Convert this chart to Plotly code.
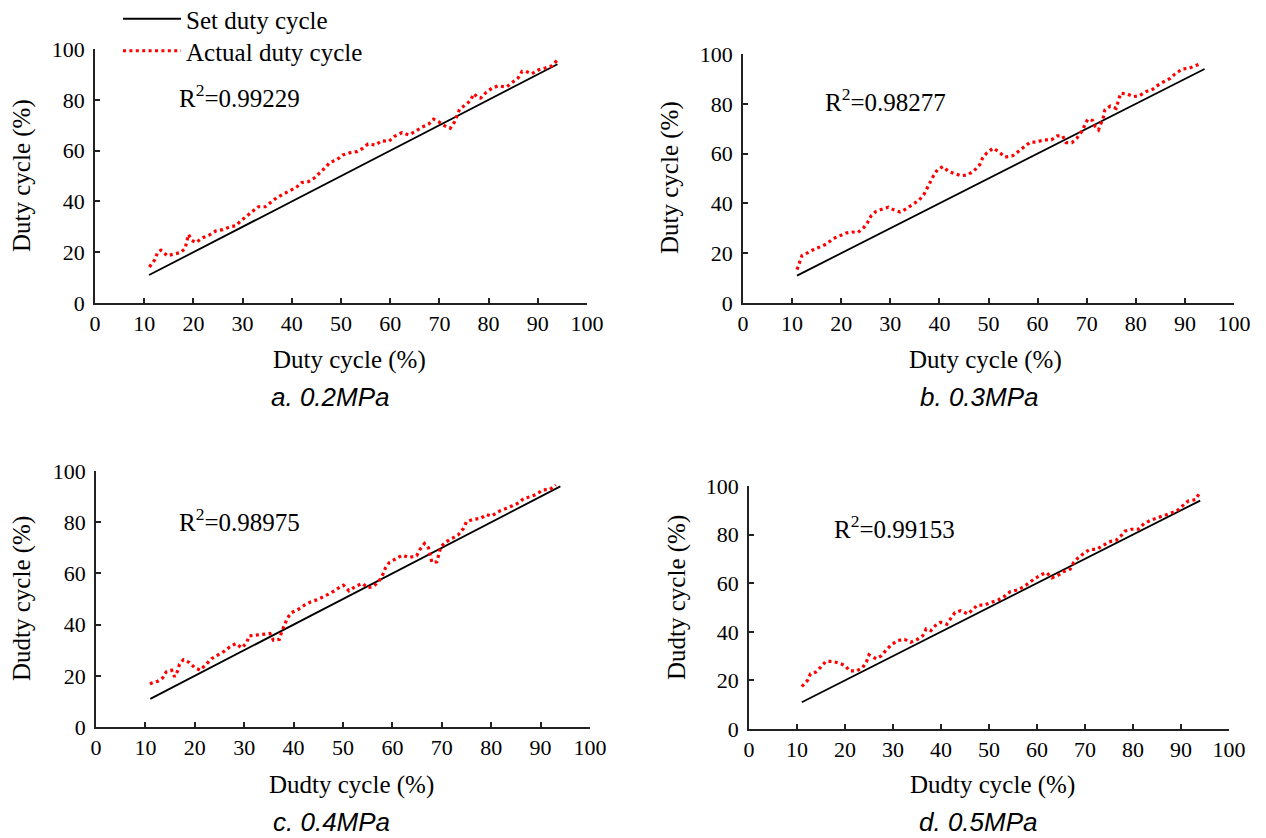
import plotly.graph_objects as go

# The page body adds an 8px margin; the figure is sized/positioned to compensate.
OFF = 8
W, H = 1266 - OFF, 838 - OFF

# ---------------- data ----------------
set_x = [11, 94]
set_y = [11, 94]

a_x = [11.05, 12.2, 12.7, 13.4, 14.7, 15.9, 17.4, 18.3, 18.6, 19.0, 19.7, 20.5, 21.9, 23.3, 24.6, 26.0,
       27.5, 28.6, 29.8, 30.9, 32.1, 33.2, 34.6, 35.9, 36.9, 38.2, 39.5, 40.9, 42.0, 43.4, 44.5, 45.8,
       46.8, 47.8, 49.1, 50.4, 51.9, 53.2, 54.4, 55.5, 57.0, 58.3, 59.7, 60.8, 62.4, 63.7, 65.1, 66.3,
       67.8, 68.8, 69.8, 71.1, 72.2, 73.1, 73.6, 74.1, 75.5, 76.3, 77.0, 77.8, 78.4, 79.5, 80.7, 82.0,
       83.6, 84.7, 86.0, 86.8, 87.5, 88.8, 90.2, 91.5, 92.9, 93.9]
a_y = [14.2, 17.1, 19.9, 20.8, 18.6, 19.1, 19.9, 21.4, 24.1, 27.0, 24.7, 23.8, 25.7, 26.8, 28.4, 28.9,
       30.0, 30.4, 32.6, 34.3, 35.9, 37.9, 37.9, 39.9, 41.4, 42.8, 44.2, 45.5, 47.4, 47.8, 49.1, 51.3,
       53.3, 55.4, 56.3, 58.3, 59.2, 59.6, 60.9, 62.6, 62.2, 63.9, 63.6, 65.5, 67.1, 66.2, 67.5, 69.1,
       70.4, 72.4, 71.4, 69.7, 68.8, 71.4, 74.1, 76.3, 78.3, 79.7, 82.4, 80.9, 80.7, 82.9, 84.6, 85.5,
       85.0, 86.6, 88.6, 91.2, 91.2, 90.3, 91.8, 92.5, 93.4, 95.5]

b_x = [11.0, 11.5, 12.0, 13.5, 14.6, 15.9, 17.1, 18.3, 19.7, 21.0, 22.2, 23.4, 24.6, 25.4, 26.1, 27.1,
       28.5, 29.6, 30.7, 32.0, 33.2, 34.4, 35.8, 36.8, 37.5, 38.0, 38.8, 39.6, 40.7, 41.9, 43.1, 44.4,
       45.8, 47.1, 48.2, 48.8, 49.7, 51.0, 52.0, 53.4, 55.0, 56.3, 57.3, 58.5, 59.7, 61.3, 62.8, 64.0,
       65.1, 65.8, 67.0, 68.0, 69.0, 69.7, 70.2, 71.2, 71.7, 72.4, 72.9, 73.4, 73.7, 74.8, 76.0, 76.5,
       76.9, 78.2, 79.5, 80.7, 82.1, 83.4, 84.6, 86.0, 87.0, 88.0, 89.5, 90.9, 92.1, 93.4]
b_y = [13.4, 16.3, 19.0, 20.5, 21.7, 22.7, 23.8, 25.8, 27.0, 28.1, 28.5, 28.3, 30.3, 32.4, 35.0, 36.8,
       37.8, 38.5, 37.4, 36.5, 37.8, 39.4, 41.2, 43.4, 46.1, 48.5, 51.1, 53.5, 54.8, 52.8, 51.9, 51.1,
       51.5, 53.2, 55.5, 58.2, 60.4, 62.2, 60.8, 58.6, 59.2, 61.1, 62.6, 64.6, 64.6, 65.5, 65.5, 67.1,
       67.1, 64.4, 64.4, 66.2, 68.9, 71.5, 73.8, 73.3, 70.9, 69.5, 71.9, 74.6, 77.5, 79.1, 78.2, 81.3,
       84.2, 84.0, 82.9, 83.2, 84.9, 85.8, 87.6, 89.2, 90.2, 92.0, 94.0, 94.3, 95.2, 96.3]

c_x = [10.9, 12.5, 13.5, 14.2, 15.3, 15.9, 16.5, 16.9, 17.7, 18.9, 20.0, 21.1, 22.3, 23.4, 24.8, 26.0,
       27.1, 28.3, 29.5, 30.5, 31.0, 32.5, 33.9, 35.2, 35.9, 37.1, 37.6, 38.1, 38.7, 39.5, 41.0, 42.2,
       43.5, 45.0, 46.4, 47.7, 48.9, 50.1, 51.2, 52.6, 53.9, 55.0, 56.1, 57.2, 58.0, 58.6, 59.4, 60.7,
       62.0, 63.4, 64.9, 65.6, 66.5, 67.3, 67.6, 68.0, 69.0, 69.4, 69.8, 70.9, 72.2, 73.3, 74.4, 75.0,
       76.4, 77.9, 79.0, 80.1, 81.4, 82.8, 84.3, 85.6, 86.6, 88.0, 89.2, 90.4, 91.9, 93.1]
c_y = [16.9, 17.9, 19.2, 21.5, 22.2, 19.6, 21.8, 24.5, 26.3, 25.2, 23.1, 22.2, 24.5, 26.7, 28.3, 29.6,
       31.3, 32.6, 30.9, 32.9, 35.6, 35.9, 36.2, 36.5, 33.9, 34.2, 37.2, 39.8, 42.4, 44.6, 46.0, 47.6,
       48.9, 49.9, 51.1, 52.5, 54.1, 55.4, 53.2, 55.0, 56.1, 54.4, 54.8, 56.7, 59.3, 62.2, 64.3, 65.6,
       67.1, 66.2, 66.9, 69.4, 71.7, 70.0, 67.1, 64.3, 64.5, 67.5, 70.4, 72.4, 73.7, 75.0, 77.6, 80.2,
       81.1, 81.5, 83.0, 82.4, 84.1, 85.1, 86.4, 87.6, 89.3, 90.0, 90.9, 92.6, 92.8, 94.5]

d_x = [11.0, 12.2, 12.8, 13.9, 14.9, 16.0, 17.4, 18.8, 20.0, 21.0, 22.4, 23.7, 24.5, 25.0, 26.5, 27.6,
       28.5, 29.6, 31.0, 32.4, 33.7, 35.1, 36.2, 36.9, 37.9, 38.8, 39.9, 41.2, 41.9, 42.9, 44.1, 45.6,
       46.6, 47.6, 49.0, 50.6, 51.9, 53.1, 54.4, 55.9, 57.3, 58.4, 59.6, 61.0, 62.0, 63.1, 64.3, 65.5,
       66.9, 67.6, 68.6, 69.7, 71.0, 72.4, 73.7, 75.0, 76.5, 77.4, 78.3, 79.7, 81.1, 82.3, 83.7, 85.1,
       86.5, 87.8, 89.1, 90.3, 91.5, 93.0, 93.8]
d_y = [17.5, 20.0, 22.7, 23.4, 25.4, 27.8, 27.8, 27.1, 26.1, 23.9, 23.9, 25.3, 27.8, 30.5, 28.9, 30.2,
       32.3, 34.6, 36.4, 36.9, 35.7, 36.9, 38.4, 41.2, 40.5, 42.5, 43.9, 43.1, 45.1, 47.9, 48.7, 47.3,
       49.2, 51.0, 51.0, 52.0, 53.1, 54.4, 56.5, 57.2, 58.6, 60.2, 62.0, 63.6, 64.4, 62.2, 63.1, 64.7,
       65.8, 68.4, 70.5, 72.2, 73.9, 73.9, 75.4, 77.0, 77.7, 79.3, 81.4, 82.2, 82.2, 84.5, 85.9, 86.9,
       88.0, 89.1, 89.7, 91.8, 93.8, 94.4, 96.9]

panel_actual = [(a_x, a_y), (b_x, b_y), (c_x, c_y), (d_x, d_y)]
r2_labels = ["R<sup>2</sup>=0.99229", "R<sup>2</sup>=0.98277", "R<sup>2</sup>=0.98975", "R<sup>2</sup>=0.99153"]
x_titles = ["Duty cycle (%)", "Duty cycle (%)", "Dudty cycle (%)", "Dudty cycle (%)"]
y_titles = ["Duty cycle (%)", "Duty cycle (%)", "Dudty cycle (%)", "Dudty cycle (%)"]
sub_titles = ["a. 0.2MPa", "b. 0.3MPa", "c. 0.4MPa", "d. 0.5MPa"]
x_ticks = [0, 10, 20, 30, 40, 50, 60, 70, 80, 90, 100]
y_ticks = [0, 20, 40, 60, 80, 100]

# ---------------- layout geometry (screen pixels) ----------------
# plot boxes: (left, right, top, bottom)
boxes = [(95, 587, 49, 303), (743, 1234, 54, 303), (96, 590, 471, 727), (749, 1229, 486, 729)]
r2_pos = [(177, 96), (823, 100), (177, 520), (832, 527)]
xt_pos = [(349, 360), (985, 360), (351, 785), (992, 785)]
yt_pos = [(22, 176), (670, 178), (22, 599), (677, 598)]
st_pos = [(330, 397), (979, 397), (331, 822), (978, 822)]

SERIF = "Liberation Serif, Times New Roman, serif"
SANS = "Liberation Sans, Arial, sans-serif"

def px(x):
    return (x - OFF) / W

def py(y):
    return 1 - (y - OFF) / H

fig = go.Figure()
layout = dict(width=W, height=H, margin=dict(l=0, r=0, t=0, b=0, pad=0, autoexpand=False),
              paper_bgcolor="white", plot_bgcolor="white", annotations=[])

for i, ((ax_x, ax_y), box) in enumerate(zip(panel_actual, boxes)):
    n = "" if i == 0 else str(i + 1)
    xa, ya = "x" + n, "y" + n
    fig.add_trace(go.Scatter(x=set_x, y=set_y, mode="lines", name="Set duty cycle",
                             line=dict(color="black", width=1.8), xaxis=xa, yaxis=ya,
                             legend="legend", showlegend=(i == 0)))
    fig.add_trace(go.Scatter(x=ax_x, y=ax_y, mode="lines", name="Actual duty cycle",
                             line=dict(color="#FF0000", width=3.2, dash="3px,3.4px"),
                             xaxis=xa, yaxis=ya, legend="legend2", showlegend=(i == 0)))
    l, r, t, b = box
    common = dict(range=[0, 100], showgrid=False, zeroline=False, showline=True,
                  linecolor="#222", linewidth=1.5, ticks="inside", ticklen=5,
                  tickwidth=1.5, tickcolor="#222", automargin=False,
                  tickfont=dict(family=SERIF, size=22, color="black"))
    layout["xaxis" + n] = dict(common, domain=[px(l), px(r)], anchor=ya,
                               tickvals=x_ticks, ticktext=[str(v) for v in x_ticks])
    layout["yaxis" + n] = dict(common, domain=[py(b), py(t)], anchor=xa,
                               tickvals=y_ticks, ticktext=[str(v) for v in y_ticks],
                               ticklabelstandoff=4)
    layout["annotations"] += [
        dict(text=r2_labels[i], x=px(r2_pos[i][0]), y=py(r2_pos[i][1]), xref="paper", yref="paper",
             xanchor="left", yanchor="middle", showarrow=False,
             font=dict(family=SERIF, size=25, color="black")),
        dict(text=x_titles[i], x=px(xt_pos[i][0]), y=py(xt_pos[i][1]), xref="paper", yref="paper",
             xanchor="center", yanchor="middle", showarrow=False,
             font=dict(family=SERIF, size=25, color="black")),
        dict(text=y_titles[i], x=px(yt_pos[i][0]), y=py(yt_pos[i][1]), xref="paper", yref="paper",
             xanchor="center", yanchor="middle", showarrow=False, textangle=-90,
             font=dict(family=SERIF, size=25, color="black")),
        dict(text="<i>" + sub_titles[i] + "</i>", x=px(st_pos[i][0]), y=py(st_pos[i][1]),
             xref="paper", yref="paper", xanchor="center", yanchor="middle", showarrow=False,
             font=dict(family=SANS, size=26, color="black")),
    ]

leg_common = dict(xanchor="left", yanchor="middle", bgcolor="rgba(0,0,0,0)", itemwidth=58,
                  borderwidth=0, font=dict(family=SERIF, size=25, color="black"))
layout["legend"] = dict(leg_common, x=px(118), y=py(19))
layout["legend2"] = dict(leg_common, x=px(118), y=py(51))
layout["showlegend"] = True
fig.update_layout(**layout)

fig.write_html("out.html")
